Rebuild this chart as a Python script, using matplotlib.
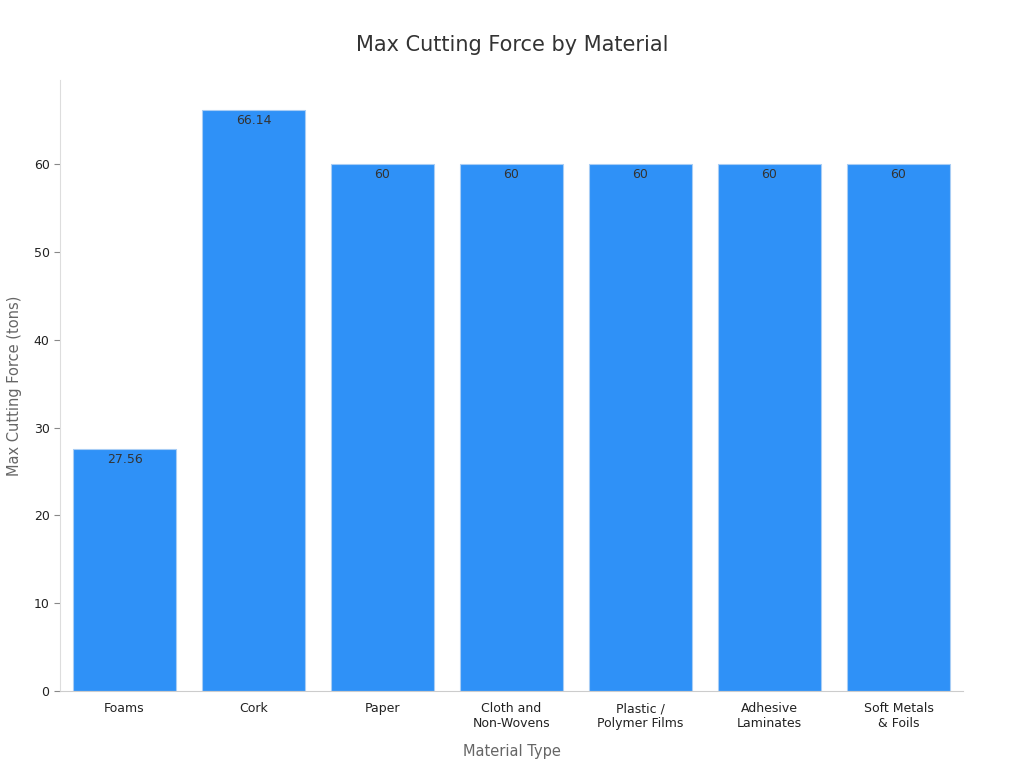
import matplotlib
matplotlib.use("Agg")
import matplotlib.pyplot as plt
import numpy as np

categories = ['Foams', 'Cork', 'Paper', 'Cloth and\nNon-Wovens', 'Plastic /\nPolymer Films',
              'Adhesive\nLaminates', 'Soft Metals\n& Foils']
values = [27.56, 66.14, 60, 60, 60, 60, 60]
labels = ['27.56', '66.14', '60', '60', '60', '60', '60']
yticks = [0, 10, 20, 30, 40, 50, 60]

fig = plt.figure(figsize=(10.24, 7.68), dpi=100)
ax = fig.add_axes([0.0586, 0.1003, 0.8818, 0.7955])

x = np.arange(len(categories))
bars = ax.bar(x, values, 0.8, color='#2f91f7', edgecolor='#a8cdf5', linewidth=0.8)
for b, lab in zip(bars, labels):
    ax.text(b.get_x() + b.get_width() / 2, b.get_height() - 0.4, lab,
            ha='center', va='top', fontsize=9, color='#333333')

ax.set_xlim(-0.5, 6.5)
ax.set_ylim(0, 69.6)
ax.set_xticks(x)
ax.set_xticklabels(categories, fontsize=9, color='#222222')
ax.set_yticks(yticks)
ax.tick_params(axis='y', labelsize=9, colors='#222222', length=4)
ax.tick_params(axis='x', length=0, pad=8)
for t in ax.get_yticklabels():
    t.set_color('#222222')

ax.spines['top'].set_visible(False)
ax.spines['right'].set_visible(False)
ax.spines['left'].set_color('#dddddd')
ax.spines['bottom'].set_color('#cccccc')
ax.tick_params(axis='y', color='#888888')

ax.set_xlabel('Material Type', fontsize=10.5, color='#666666', labelpad=10)
ax.set_ylabel('Max Cutting Force (tons)', fontsize=10.5, color='#666666', labelpad=8)
fig.suptitle('Max Cutting Force by Material', fontsize=15, color='#333333', y=0.955)

fig.savefig('out.png', dpi=100, facecolor='white')
